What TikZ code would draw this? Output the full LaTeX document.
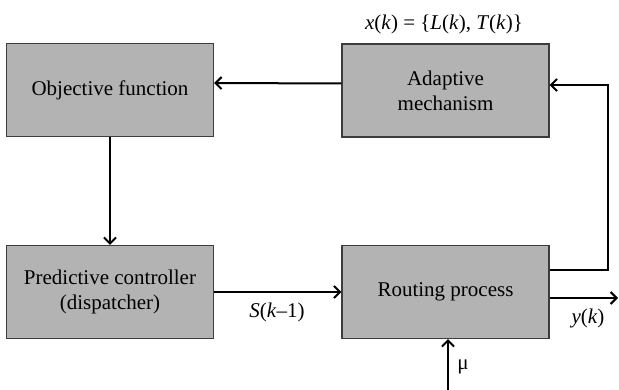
\documentclass[tikz,border=0pt]{standalone}
\usepackage{fontspec}
\setmainfont{Liberation Serif}
\usetikzlibrary{arrows.meta}
\begin{document}
\begin{tikzpicture}[x=1pt,y=-1pt,
  blockbox/.style={draw={rgb,255:red,60;green,60;blue,60},line width=1.3pt,fill={rgb,255:red,179;green,179;blue,179},
    minimum width=207pt,minimum height=93pt,inner sep=0pt,align=center,
    font=\fontsize{21}{25}\selectfont},
  conn/.style={line width=2pt,-{Straight Barb[length=6pt,width=12pt,line width=2pt]}},
  lbl/.style={font=\fontsize{21}{25}\selectfont,inner sep=0pt}]
\useasboundingbox (0,0) rectangle (619,390);
\node[blockbox] (obj) at (110,90) {Objective function};
\node[blockbox] (ada) at (445.5,90.5) {Adaptive\\mechanism};
\node[blockbox] (pred) at (110,292) {Predictive controller\\(dispatcher)};
\node[blockbox] (rout) at (445.5,292) {Routing process};
\coordinate (fbR) at (608,270);
\coordinate (fbT) at (608,85);
\coordinate (outE) at (618,298);
\coordinate (muS) at (448,390);
\draw[conn] ([yshift=7pt]ada.west) -- ([yshift=7pt]obj.east);
\draw[conn] (obj.south) -- (pred.north);
\draw[conn] (pred.east) -- (rout.west);
\draw[conn] ([yshift=22pt]rout.east) -- (fbR) -- (fbT) -- ([yshift=5.5pt]ada.east);
\draw[conn] ([yshift=-6pt]rout.east) -- (outE);
\draw[conn] (muS) -- ([xshift=2.5pt]rout.south);
\node[lbl] (xk) at (444,24) {\textit{x}(\textit{k}) = \{\textit{L}(\textit{k}), \textit{T}(\textit{k})\}};
\node[lbl] (sk) at (277,312) {\textit{S}(\textit{k}–1)};
\node[lbl] (yk) at (588,318) {\textit{y}(\textit{k})};
\node[lbl] (mu) at (463,367) {μ};
\end{tikzpicture}
\end{document}
